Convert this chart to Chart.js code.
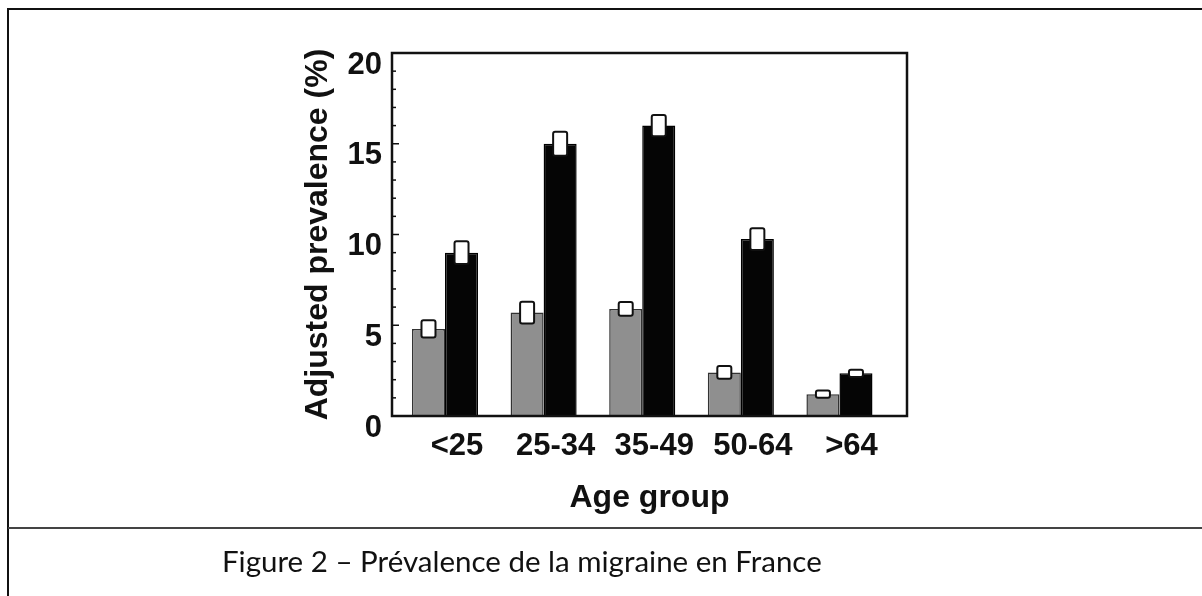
<!DOCTYPE html>
<html>
<head>
<meta charset="utf-8">
<script src="https://cdn.jsdelivr.net/npm/chart.js@4.4.1/dist/chart.umd.min.js"></script>
<style>
  html, body { margin: 0; padding: 0; background: #fff; }
  body { width: 1202px; height: 596px; position: relative; overflow: hidden; }
  #page { position: absolute; left: 7px; top: 8px; width: 1300px; height: 700px; border-left: 2px solid #111; border-top: 2px solid #111; }
  #sep { position: absolute; left: 8px; top: 527px; width: 1200px; height: 2px; background: #444; }
  #graphique { position: absolute; left: 0; top: 0; }
  #legende { position: absolute; left: 222px; top: 544px; font-family: Lato, sans-serif; font-size: 29.5px; line-height: 34px; color: #111; white-space: nowrap; }
</style>
</head>
<body>
<div id="page"></div>
<div id="sep"></div>
<canvas id="graphique" width="1202" height="596"></canvas>
<div id="legende">Figure 2 – Prévalence de la migraine en France</div>
<script>
// valeurs
const ageGroups = ['<25', '25-34', '35-49', '50-64', '>64'];
const serieGris = [4.8, 5.7, 5.9, 2.4, 1.2];
const serieNoir = [9.0, 15.0, 16.0, 9.75, 2.35];
const erreurGris = [0.47, 0.6, 0.38, 0.35, 0.2];
const erreurNoir = [0.63, 0.66, 0.58, 0.6, 0.2];
const yTicks = [0, 5, 10, 15, 20];

// cadre, graduations et boites d'erreur
const cadre = {
    id: 'cadre',
    afterDatasetsDraw(chart) {
        const ctx = chart.ctx;
        const a = chart.chartArea;
        const y = chart.scales.y;
        ctx.save();
        [erreurGris, erreurNoir].forEach((err, d) => {
            const meta = chart.getDatasetMeta(d);
            const vals = chart.data.datasets[d].data;
            meta.data.forEach((bar, i) => {
                const v = vals[i].y;
                const haut = y.getPixelForValue(v + err[i]);
                const bas = y.getPixelForValue(v - err[i]);
                ctx.beginPath();
                ctx.roundRect(bar.x - 7, haut, 14, bas - haut, 2);
                ctx.fillStyle = '#fff';
                ctx.fill();
                ctx.lineWidth = 2;
                ctx.strokeStyle = '#111';
                ctx.stroke();
            });
        });
        ctx.lineWidth = 2.5;
        ctx.strokeStyle = '#111';
        ctx.strokeRect(a.left, a.top, a.width, a.height);
        ctx.lineWidth = 1.5;
        for (let v = 0; v <= 20; v++) {
            const py = y.getPixelForValue(v);
            const long = v % 5 === 0 ? 7 : 4;
            ctx.beginPath();
            ctx.moveTo(a.left, py);
            ctx.lineTo(a.left + long, py);
            ctx.stroke();
        }
        ctx.restore();
    }
};

const police = { family: "'Liberation Sans', Arial, sans-serif", weight: 'bold' };

new Chart(document.getElementById('graphique').getContext('2d'), {
    type: 'bar',
    data: {
        datasets: [{
            data: serieGris.map((v, i) => ({ x: i, y: v })),
            backgroundColor: '#8f8f8f',
            borderColor: '#333',
            borderWidth: 1.5
        }, {
            data: serieNoir.map((v, i) => ({ x: i, y: v })),
            backgroundColor: '#050505',
            borderColor: '#000',
            borderWidth: 1.5
        }]
    },
    options: {
        responsive: false,
        animation: false,
        categoryPercentage: 0.67,
        barPercentage: 1,
        layout: { padding: { left: 299, top: 53, right: 295, bottom: 78 } },
        plugins: { legend: { display: false }, tooltip: { enabled: false } },
        scales: {
            x: {
                type: 'linear',
                offset: false,
                min: -0.5375,
                max: 4.685,
                afterBuildTicks: s => { s.ticks = ageGroups.map((_, i) => ({ value: i })); },
                afterFit: s => { s.height = 102; },
                grid: { display: false, drawTicks: false },
                border: { display: false },
                ticks: {
                    callback: v => ageGroups[v],
                    font: { ...police, size: 31 },
                    color: '#111',
                    padding: 12,
                    labelOffset: 12,
                    maxRotation: 0,
                    autoSkip: false
                },
                title: {
                    display: true,
                    text: 'Age group',
                    font: { ...police, size: 32 },
                    color: '#111',
                    padding: { top: 0, bottom: 1 }
                }
            },
            y: {
                min: 0,
                max: 20,
                afterBuildTicks: s => { s.ticks = yTicks.map(v => ({ value: v })); },
                afterFit: s => { s.width = 93; },
                grid: { display: false, drawTicks: false },
                border: { display: false },
                ticks: {
                    font: { ...police, size: 31 },
                    color: '#111',
                    padding: 10,
                    labelOffset: 12
                },
                title: {
                    display: true,
                    text: 'Adjusted prevalence (%)',
                    font: { ...police, size: 32 },
                    color: '#111',
                    padding: { top: 0, bottom: 0 }
                }
            }
        }
    },
    plugins: [cadre]
});
</script>
</body>
</html>
